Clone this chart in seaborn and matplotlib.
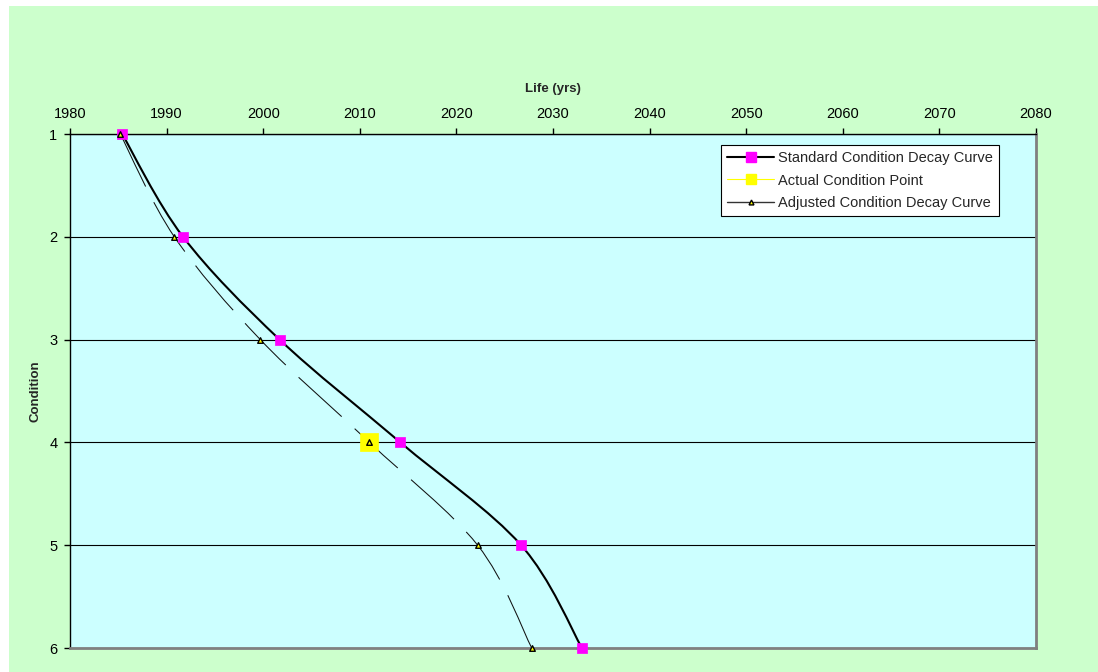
"""Condition decay curves: standard vs adjusted, with the actual condition point."""

import matplotlib
matplotlib.use("Agg")
import matplotlib.pyplot as plt
import numpy as np
import seaborn as sns
from matplotlib.lines import Line2D
from matplotlib.patches import PathPatch, Rectangle
from matplotlib.path import Path


condition = [1, 2, 3, 4, 5, 6]
standard_year = [1985.4, 1991.7, 2001.7, 2014.2, 2026.7, 2033.0]
adjusted_year = [1985.2, 1990.8, 1999.7, 2011.0, 2022.2, 2027.8]
actual_year = [2011.0]
actual_condition = [4]
x_ticks = [1980, 1990, 2000, 2010, 2020, 2030, 2040, 2050, 2060, 2070, 2080]
y_ticks = [1, 2, 3, 4, 5, 6]
series_labels = ["Standard Condition Decay Curve", "Actual Condition Point", "Adjusted Condition Decay Curve"]


def smooth_path(xs, ys):
    # Excel-style smoothed line: cubic Bezier segments through every point
    pts = np.column_stack([xs, ys]).astype(float)
    padded = np.vstack([pts[0], pts, pts[-1]])
    verts = [pts[0]]
    codes = [Path.MOVETO]
    for i in range(len(pts) - 1):
        p0, p1, p2, p3 = padded[i], padded[i + 1], padded[i + 2], padded[i + 3]
        verts += [p1 + (p2 - p0) / 6, p2 - (p3 - p1) / 6, p2]
        codes += [Path.CURVE4] * 3
    return Path(verts, codes)


sns.set_theme(style="ticks")
plt.rcParams["font.family"] = ["Liberation Sans", "DejaVu Sans"]

fig = plt.figure(figsize=(10.98, 6.72), dpi=100, facecolor="white")
fig.add_artist(Rectangle((9 / 1098, 0), 1, 666 / 672, transform=fig.transFigure,
                         facecolor="#CCFFCC", edgecolor="none", zorder=-10))
ax = fig.add_axes([70 / 1098, 24 / 672, 966 / 1098, 514 / 672])
ax.set_facecolor("#CCFFFF")

ax.add_patch(PathPatch(smooth_path(standard_year, condition), fill=False, edgecolor="black", lw=1.5, zorder=3))
ax.add_patch(PathPatch(smooth_path(adjusted_year, condition), fill=False, edgecolor="#111111", lw=0.75,
                       linestyle=(0, (56, 17)), zorder=3))

sns.scatterplot(x=standard_year, y=condition, marker="s", s=48, color="#FF00FF", edgecolor="#FF00FF",
                linewidth=0.5, ax=ax, zorder=4, clip_on=False)
sns.scatterplot(x=actual_year, y=actual_condition, marker="s", s=150, color="#FFFF00", edgecolor="#FFFF00",
                linewidth=0.5, ax=ax, zorder=5, clip_on=False)
sns.scatterplot(x=adjusted_year, y=condition, marker="^", s=16, color="#FFFF00", edgecolor="black",
                linewidth=1.0, ax=ax, zorder=6, clip_on=False)

ax.set_xlim(1980, 2080)
ax.set_ylim(6, 1)
ax.set_xticks(x_ticks)
ax.set_yticks(y_ticks)
ax.xaxis.tick_top()
ax.xaxis.set_label_position("top")
ax.tick_params(axis="both", direction="out", length=4, width=1, colors="black", labelsize=10.5)
ax.tick_params(axis="x", pad=5)
ax.tick_params(axis="y", pad=5)
ax.yaxis.grid(True, color="black", lw=0.8)
ax.set_axisbelow(True)
for side in ["left", "top"]:
    ax.spines[side].set_color("black")
    ax.spines[side].set_linewidth(1)
for side in ["right", "bottom"]:
    ax.spines[side].set_color("#808080")
    ax.spines[side].set_linewidth(2)

ax.set_xlabel("Life (yrs)", fontsize=9.5, fontweight="bold", labelpad=11.5)
ax.set_ylabel("Condition", fontsize=9.5, fontweight="bold", labelpad=6)

handles = [
    Line2D([], [], color="black", lw=1.5, marker="s", markersize=6.5, markerfacecolor="#FF00FF", markeredgecolor="#FF00FF"),
    Line2D([], [], color="#FFFF00", lw=0.8, marker="s", markersize=7, markerfacecolor="#FFFF00", markeredgecolor="#FFFF00"),
    Line2D([], [], color="#333333", lw=1, marker="^", markersize=3.5, markerfacecolor="#FFFF00", markeredgecolor="black"),
]
leg = ax.legend(handles, series_labels, loc="upper right", bbox_to_anchor=(0.9617, 0.9786), borderaxespad=0,
                fontsize=10.5, frameon=True, fancybox=False, framealpha=1, facecolor="white", edgecolor="black",
                handlelength=3.2, handletextpad=0.3, labelspacing=0.6, borderpad=0.4)
leg.get_frame().set_linewidth(0.8)

fig.savefig("out.png", dpi=100, facecolor=fig.get_facecolor())
